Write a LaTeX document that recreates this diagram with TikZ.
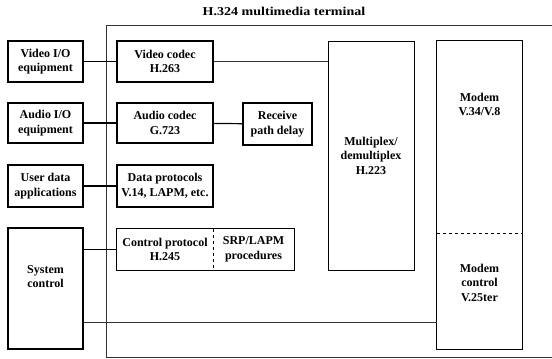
\documentclass[tikz,border=0pt]{standalone}
\usepackage{fontspec}
\setmainfont{Liberation Serif}
\usetikzlibrary{positioning}

\tikzset{
  blk/.style={draw, line width=1.3pt, align=center, inner sep=1pt},
  txt/.style={align=center, inner sep=1pt},
  wire/.style={line width=1.2pt},
  thinwire/.style={line width=0.8pt, black!80},
}

\begin{document}
\begin{tikzpicture}[x=1pt,y=-1pt,font=\fontsize{12}{14.5}\selectfont\bfseries]
            \useasboundingbox (0,0) rectangle (552,359);

            % Terminal boundary
            \draw[thinwire] (552,25) -- (106,25) -- (106,357) -- (552,357);
            \node[txt] (title) at (284,11) {\scalebox{1.17}[1]{H.324 multimedia terminal}};

            % Outside equipment
            \node[blk, minimum width=75, minimum height=41] (vidio) at (45.5,61.5) {Video I/O\\equipment};
            \node[blk, minimum width=75, minimum height=40] (audio) at (45.5,123) {Audio I/O\\equipment};
            \node[blk, minimum width=75, minimum height=42] (userdata) at (45.5,186) {User data\\applications};
            \node[blk, minimum width=75, minimum height=121] (sysctl) at (45.5,288.5) {};
            \node[txt, below=37pt of sysctl.north] (sysctltxt) {System\\control};

            % Codecs and protocols
            \node[blk, minimum width=96, minimum height=41] (vidcodec) at (165,61.5) {Video codec\\H.263};
            \node[blk, minimum width=96, minimum height=40] (audcodec) at (165,123) {Audio codec\\G.723};
            \node[blk, minimum width=69, minimum height=42] (rxdelay) at (277.5,124) {Receive\\path delay};
            \node[blk, minimum width=96, minimum height=42] (dataprot) at (165,186) {Data protocols\\V.14, LAPM, etc.};
            \node[txt, minimum width=96, minimum height=41] (ctrlprot) at (165,249.5) {Control protocol\\H.245};
            \node[txt, minimum width=81, minimum height=41] (srp) at (253.5,249.5) {SRP/LAPM\\procedures};
            \draw[line width=1.3pt] (ctrlprot.north west) rectangle (srp.south east);
            \draw[dashed] (ctrlprot.north east) -- (ctrlprot.south east);

            % Multiplex
            \node[blk, line width=1pt, minimum width=86, minimum height=229] (mux) at (371,155.5) {Multiplex/\\demultiplex\\H.223};

            % Modem
            \node[txt, minimum width=85, minimum height=192] (modem) at (479.5,137) {};
            \node[txt, minimum width=85, minimum height=116] (modemctl) at (479.5,291) {};
            \draw[line width=1.2pt] (modem.north west) rectangle (modemctl.south east);
            \draw[dashed] (modem.south west) -- (modem.south east);
            \node[txt, below=51pt of modem.north] (modemtxt) {Modem\\V.34/V.8};
            \node[txt, below=30pt of modemctl.north] (modemctltxt) {Modem\\control\\V.25ter};

            % Connections
            \draw[wire] (vidio) -- (vidcodec);
            \draw[thinwire] (vidcodec.east) -- (vidcodec.east -| mux.west);
            \draw[wire] (audio) -- (audcodec);
            \draw[wire] (audcodec) -- (rxdelay);
            \draw[wire] (userdata) -- (dataprot);
            \draw[wire] (sysctl.east |- ctrlprot.west) -- (ctrlprot.west);
            \draw[thinwire] ([yshift=-34pt]sysctl.east) -- ([yshift=-34pt]sysctl.east -| modemctl.west);
        \end{tikzpicture}
\end{document}
